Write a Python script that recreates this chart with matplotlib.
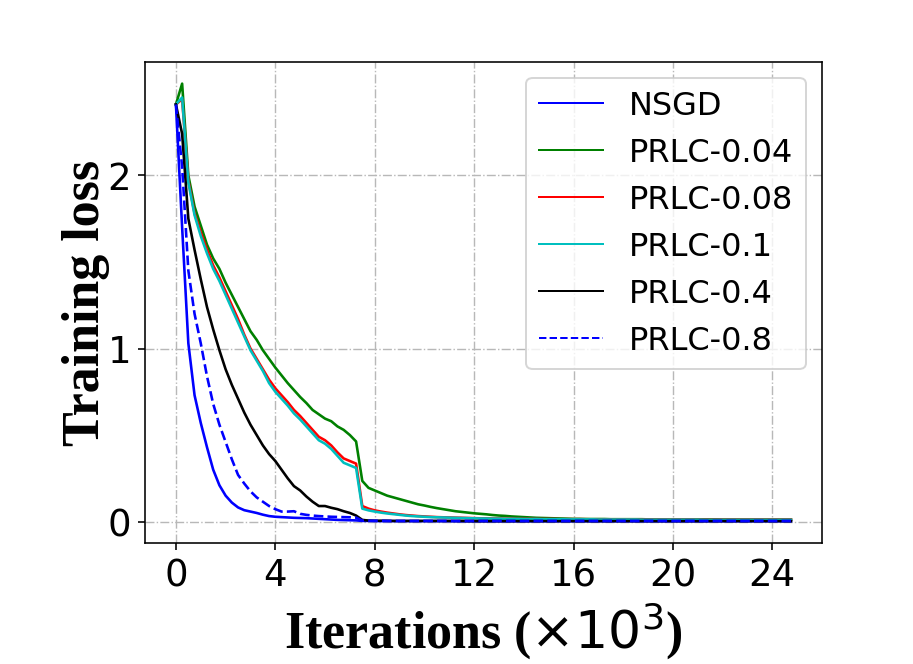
import numpy as np
import matplotlib
matplotlib.use('Agg')
import matplotlib.pyplot as plt

#%% Data (iterations in thousands, one point every 250 iterations)
iters = np.arange(100) * 0.25

nsgd = [2.41, 1.70, 1.03, 0.73, 0.57, 0.43, 0.30, 0.21, 0.15, 0.11,
        0.082, 0.066, 0.058, 0.050, 0.040, 0.032, 0.028, 0.026, 0.024, 0.022,
        0.021, 0.020, 0.018, 0.016, 0.014, 0.012, 0.010, 0.009, 0.008, 0.007,
        0.004, 0.004, 0.003, 0.003, 0.003, 0.003, 0.003, 0.003, 0.003, 0.003,
        0.003, 0.003, 0.003, 0.003, 0.003, 0.002, 0.002, 0.002, 0.002, 0.002,
        0.002, 0.002, 0.002, 0.002, 0.002, 0.002, 0.002, 0.002, 0.002, 0.002,
        0.002, 0.002, 0.002, 0.002, 0.002, 0.002, 0.002, 0.002, 0.002, 0.002,
        0.002, 0.002, 0.002, 0.002, 0.002, 0.002, 0.002, 0.002, 0.002, 0.002,
        0.002, 0.002, 0.002, 0.002, 0.002, 0.002, 0.002, 0.002, 0.002, 0.002,
        0.002, 0.002, 0.002, 0.002, 0.002, 0.002, 0.002, 0.002, 0.002, 0.002]

prlc_004 = [2.41, 2.53, 2.00, 1.82, 1.71, 1.60, 1.52, 1.46, 1.38, 1.31,
            1.24, 1.17, 1.10, 1.05, 0.99, 0.94, 0.89, 0.845, 0.80, 0.76,
            0.72, 0.685, 0.645, 0.62, 0.595, 0.58, 0.55, 0.53, 0.50, 0.463,
            0.235, 0.195, 0.18, 0.165, 0.15, 0.14, 0.13, 0.12, 0.11, 0.10,
            0.093, 0.085, 0.078, 0.072, 0.066, 0.060, 0.056, 0.052, 0.048, 0.045,
            0.042, 0.038, 0.035, 0.033, 0.030, 0.028, 0.026, 0.024, 0.022, 0.021,
            0.020, 0.019, 0.018, 0.017, 0.016, 0.016, 0.015, 0.015, 0.015, 0.015,
            0.014, 0.014, 0.014, 0.014, 0.014, 0.014, 0.013, 0.013, 0.013, 0.013,
            0.013, 0.013, 0.013, 0.013, 0.013, 0.013, 0.013, 0.013, 0.012, 0.012,
            0.012, 0.012, 0.012, 0.012, 0.012, 0.012, 0.012, 0.012, 0.012, 0.012]

prlc_008 = [2.41, 2.44, 1.97, 1.78, 1.67, 1.57, 1.48, 1.41, 1.33, 1.25,
            1.17, 1.08, 1.00, 0.94, 0.88, 0.82, 0.77, 0.73, 0.69, 0.645,
            0.61, 0.57, 0.53, 0.49, 0.47, 0.44, 0.40, 0.365, 0.35, 0.335,
            0.090, 0.075, 0.065, 0.058, 0.052, 0.047, 0.042, 0.038, 0.035, 0.032,
            0.030, 0.028, 0.026, 0.025, 0.024, 0.023, 0.022, 0.021, 0.020, 0.019,
            0.019, 0.018, 0.018, 0.017, 0.017, 0.016, 0.016, 0.016, 0.015, 0.015,
            0.015, 0.015, 0.014, 0.014, 0.014, 0.014, 0.014, 0.013, 0.013, 0.013,
            0.013, 0.013, 0.013, 0.013, 0.012, 0.012, 0.012, 0.012, 0.012, 0.012,
            0.012, 0.012, 0.012, 0.012, 0.011, 0.011, 0.011, 0.011, 0.011, 0.011,
            0.011, 0.011, 0.011, 0.011, 0.011, 0.011, 0.011, 0.011, 0.011, 0.011]

prlc_01 = [2.41, 2.45, 1.96, 1.77, 1.65, 1.55, 1.46, 1.39, 1.31, 1.23,
           1.15, 1.07, 0.99, 0.93, 0.87, 0.80, 0.75, 0.71, 0.67, 0.625,
           0.59, 0.55, 0.51, 0.47, 0.45, 0.42, 0.38, 0.34, 0.325, 0.31,
           0.075, 0.065, 0.058, 0.052, 0.047, 0.043, 0.039, 0.035, 0.032, 0.030,
           0.028, 0.026, 0.025, 0.024, 0.023, 0.022, 0.021, 0.020, 0.019, 0.018,
           0.018, 0.017, 0.017, 0.016, 0.016, 0.016, 0.015, 0.015, 0.015, 0.014,
           0.014, 0.014, 0.014, 0.013, 0.013, 0.013, 0.013, 0.013, 0.012, 0.012,
           0.012, 0.012, 0.012, 0.012, 0.012, 0.011, 0.011, 0.011, 0.011, 0.011,
           0.011, 0.011, 0.011, 0.011, 0.011, 0.010, 0.010, 0.010, 0.010, 0.010,
           0.010, 0.010, 0.010, 0.010, 0.010, 0.010, 0.010, 0.010, 0.010, 0.010]

prlc_04 = [2.41, 2.24, 1.75, 1.57, 1.40, 1.24, 1.11, 0.99, 0.88, 0.79,
           0.71, 0.63, 0.56, 0.50, 0.44, 0.39, 0.35, 0.30, 0.25, 0.205,
           0.18, 0.145, 0.115, 0.090, 0.090, 0.080, 0.072, 0.060, 0.050, 0.035,
           0.010, 0.006, 0.005, 0.005, 0.005, 0.004, 0.004, 0.004, 0.004, 0.004,
           0.004, 0.004, 0.004, 0.004, 0.004, 0.004, 0.004, 0.003, 0.003, 0.003,
           0.003, 0.003, 0.003, 0.003, 0.003, 0.003, 0.003, 0.003, 0.003, 0.003,
           0.003, 0.003, 0.003, 0.003, 0.003, 0.003, 0.003, 0.003, 0.003, 0.003,
           0.003, 0.003, 0.003, 0.003, 0.003, 0.003, 0.003, 0.003, 0.003, 0.003,
           0.003, 0.003, 0.003, 0.003, 0.003, 0.003, 0.003, 0.003, 0.003, 0.003,
           0.003, 0.003, 0.003, 0.003, 0.003, 0.003, 0.003, 0.003, 0.003, 0.003]

prlc_08 = [2.41, 2.05, 1.45, 1.20, 1.03, 0.84, 0.68, 0.56, 0.46, 0.36,
           0.27, 0.22, 0.175, 0.14, 0.115, 0.090, 0.072, 0.058, 0.058, 0.060,
           0.045, 0.039, 0.035, 0.032, 0.030, 0.028, 0.027, 0.026, 0.025, 0.023,
           0.006, 0.005, 0.005, 0.005, 0.004, 0.004, 0.004, 0.004, 0.004, 0.004,
           0.004, 0.004, 0.004, 0.004, 0.004, 0.004, 0.004, 0.004, 0.004, 0.004,
           0.004, 0.004, 0.004, 0.004, 0.004, 0.004, 0.004, 0.004, 0.004, 0.004,
           0.004, 0.004, 0.004, 0.004, 0.004, 0.004, 0.004, 0.004, 0.004, 0.004,
           0.004, 0.004, 0.004, 0.004, 0.004, 0.004, 0.004, 0.004, 0.004, 0.004,
           0.004, 0.004, 0.004, 0.004, 0.004, 0.004, 0.004, 0.004, 0.004, 0.004,
           0.004, 0.004, 0.004, 0.004, 0.004, 0.004, 0.004, 0.004, 0.004, 0.004]

labels = ["NSGD", "PRLC-0.04", "PRLC-0.08", "PRLC-0.1", "PRLC-0.4", "PRLC-0.8"]
x_ticks = [0, 4, 8, 12, 16, 20, 24]
y_ticks = [0, 1, 2]

#%% Plot
fig = plt.figure(figsize=(913 / 144, 664 / 144), dpi=144)
ax = fig.add_subplot(111)
fig.subplots_adjust(left=0.159, right=0.9, bottom=0.182, top=0.907)

ax.plot(iters, nsgd, 'b-', lw=1.3)
ax.plot(iters, prlc_004, 'g-', lw=1.3)
ax.plot(iters, prlc_008, 'r-', lw=1.3)
ax.plot(iters, prlc_01, 'c-', lw=1.3)
ax.plot(iters, prlc_04, 'k-', lw=1.3)
ax.plot(iters, prlc_08, 'b--', lw=1.3)

ax.grid(True, linestyle='-.', color='0.72', lw=0.7)
ax.set_xticks(x_ticks)
ax.set_yticks(y_ticks)
ax.tick_params(labelsize=18.5)

plt.xlabel(r"Iterations ($\times10^3$)", family='Liberation Serif',
           fontweight='bold', fontsize=26, labelpad=3)
plt.ylabel("Training loss", family='Liberation Serif',
           fontweight='bold', fontsize=26, labelpad=-1)

leg = plt.legend(labels, fontsize=16, loc='upper right')
for h in leg.get_lines():
    h.set_linewidth(1.0)

plt.savefig('out.png', dpi=144)
